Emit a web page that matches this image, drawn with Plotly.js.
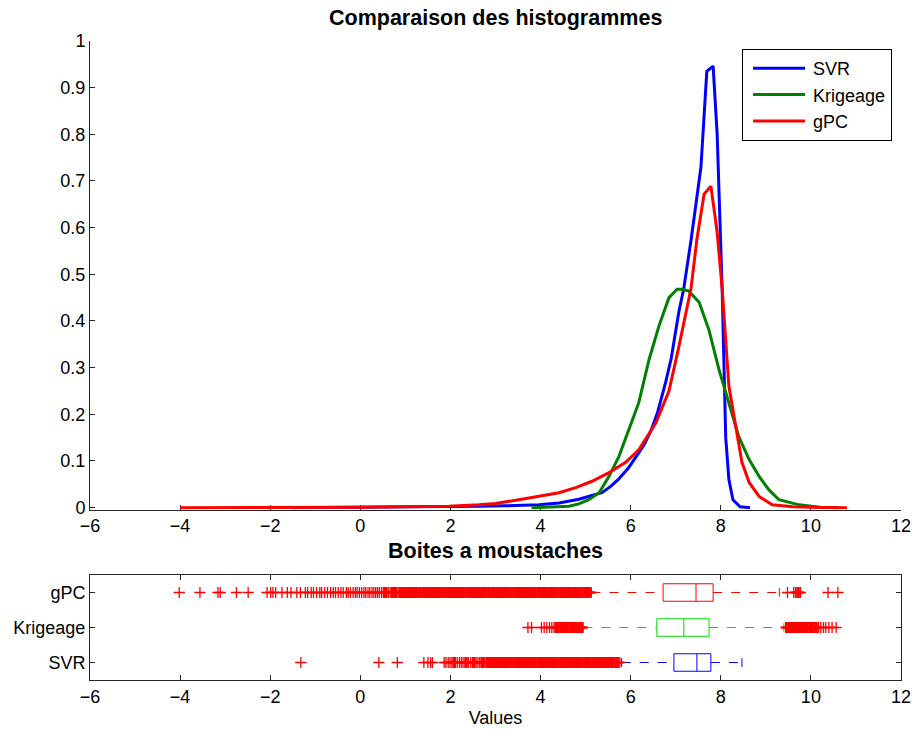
<!DOCTYPE html>
<html>
<head>
<meta charset="utf-8">
<script src="https://cdn.plot.ly/plotly-3.0.1.min.js"></script>
<style>
  html, body { margin: 0; padding: 0; background: #fff; }
  #chart { width: 913px; height: 729px; }
</style>
</head>
<body>
<div id="chart"></div>
<script>
// ---- Density estimates (top panel) ----
const svrX = [-1.5, 0, 1, 2, 2.6, 3.2, 3.6, 3.96, 4.41, 4.85, 5.1, 5.36, 5.55, 5.72, 5.95, 6.15, 6.3, 6.45, 6.6, 6.78, 6.9, 7.07, 7.18, 7.35, 7.56, 7.69, 7.83, 7.92, 8.03, 8.11, 8.18, 8.27, 8.43, 8.65];
const svrY = [0, 0.0005, 0.001, 0.002, 0.003, 0.004, 0.005, 0.006, 0.010, 0.018, 0.025, 0.032, 0.045, 0.060, 0.085, 0.115, 0.135, 0.165, 0.205, 0.27, 0.32, 0.42, 0.47, 0.58, 0.73, 0.935, 0.946, 0.80, 0.47, 0.15, 0.06, 0.017, 0.002, 0];

const krigX = [3.8, 4.2, 4.63, 4.85, 5.07, 5.30, 5.52, 5.74, 5.96, 6.18, 6.41, 6.63, 6.85, 7.03, 7.15, 7.29, 7.52, 7.74, 7.96, 8.18, 8.40, 8.63, 8.85, 9.07, 9.29, 9.74, 10.2, 10.6];
const krigY = [0, 0.001, 0.003, 0.008, 0.017, 0.032, 0.067, 0.11, 0.167, 0.225, 0.318, 0.39, 0.45, 0.468, 0.468, 0.464, 0.44, 0.38, 0.296, 0.225, 0.152, 0.103, 0.067, 0.038, 0.017, 0.006, 0.001, 0];

const gpcX = [-4.0, -3, -2, -1, 0, 1, 1.97, 2.63, 3.0, 3.52, 3.74, 4.1, 4.41, 4.78, 5.13, 5.52, 5.89, 6.18, 6.56, 6.85, 7.07, 7.34, 7.47, 7.63, 7.78, 7.92, 8.03, 8.18, 8.34, 8.47, 8.63, 8.85, 9.14, 9.6, 10.2, 10.8];
const gpcY = [0, 0, 0.0005, 0.001, 0.001, 0.002, 0.003, 0.006, 0.009, 0.017, 0.021, 0.026, 0.032, 0.043, 0.056, 0.075, 0.097, 0.124, 0.182, 0.25, 0.345, 0.47, 0.575, 0.672, 0.689, 0.59, 0.47, 0.26, 0.174, 0.097, 0.054, 0.024, 0.006, 0.002, 0.0005, 0];

// ---- Box plot statistics (bottom panel), order: SVR, Krigeage, gPC ----
const boxNames  = ['SVR', 'Krigeage', 'gPC'];
const boxPos    = [1, 2, 3];
const boxQ1     = [6.96, 6.58, 6.72];
const boxMedian = [7.47, 7.18, 7.45];
const boxQ3     = [7.78, 7.74, 7.83];
const boxLower  = [5.80, 4.95, 5.13];
const boxUpper  = [8.47, 9.40, 9.30];
const boxColors = ['rgb(0,0,255)', 'rgb(0,220,0)', 'rgb(255,0,0)'];

// Outliers beyond the whiskers
const svrOutliers = [
  -1.32, 0.41, 0.82, 1.41, 1.50, 1.56, 1.60, 1.86, 1.90, 1.95, 1.99, 2.03, 2.07, 2.10, 2.15, 2.20,
  2.24, 2.28, 2.33, 2.36, 2.40, 2.45, 2.50, 2.53, 2.57, 2.61, 2.65, 2.69, 2.72, 2.76,
  2.80, 2.83, 2.87, 2.90, 2.94, 2.97, 3.01, 3.04, 3.08, 3.11, 3.14, 3.18, 3.21, 3.25, 3.28, 3.31,
  3.35, 3.38, 3.42, 3.45, 3.48, 3.52, 3.55, 3.59, 3.62, 3.65, 3.69, 3.72, 3.76, 3.79, 3.82, 3.86,
  3.89, 3.93, 3.96, 3.99, 4.03, 4.06, 4.10, 4.13, 4.16, 4.20, 4.23, 4.27, 4.30, 4.33, 4.37, 4.40,
  4.44, 4.47, 4.50, 4.54, 4.57, 4.61, 4.64, 4.67, 4.71, 4.74, 4.78, 4.81, 4.84, 4.88, 4.91, 4.95,
  4.98, 5.01, 5.05, 5.08, 5.11, 5.15, 5.18, 5.22, 5.25, 5.28, 5.32, 5.35, 5.39, 5.42, 5.45, 5.49,
  5.52, 5.56, 5.59, 5.62, 5.66, 5.69, 5.72, 5.76
];
const krigOutliers = [
  3.72, 3.80, 4.02, 4.08, 4.14, 4.20, 4.25, 4.30, 4.34, 4.37, 4.40, 4.44, 4.47, 4.50, 4.54, 4.57,
  4.60, 4.64, 4.67, 4.70, 4.74, 4.77, 4.80, 4.84, 4.87, 4.90, 4.93,
  9.45, 9.48, 9.51, 9.54, 9.58, 9.61, 9.64, 9.67, 9.71, 9.74, 9.77, 9.80, 9.84, 9.87, 9.90, 9.93,
  9.97, 10.00, 10.03, 10.06, 10.10, 10.13, 10.17, 10.22, 10.28, 10.33, 10.40, 10.47, 10.56
];
const gpcOutliers = [
  -4.02, -3.56, -3.16, -3.11, -2.75, -2.49, -2.07, -1.99, -1.94, -1.88, -1.74, -1.62, -1.54, -1.41,
  -1.33, -1.22, -1.17, -1.09, -1.04, -0.97, -0.90, -0.86, -0.79, -0.73, -0.66, -0.60, -0.55, -0.49,
  -0.43, -0.38, -0.31, -0.27, -0.22, -0.16, -0.11, -0.07, -0.02, 0.03, 0.08, 0.12, 0.17, 0.21,
  0.26, 0.30, 0.34, 0.38, 0.42, 0.47, 0.51, 0.55, 0.58, 0.62, 0.66, 0.70, 0.73, 0.77, 0.80, 0.84,
  0.88, 0.91, 0.95, 0.98,
  1.00, 1.04, 1.07, 1.10, 1.14, 1.17, 1.21, 1.24, 1.27, 1.31, 1.34, 1.38, 1.41, 1.44, 1.48, 1.51,
  1.55, 1.58, 1.61, 1.65, 1.68, 1.72, 1.75, 1.78, 1.82, 1.85, 1.89, 1.92, 1.95, 1.99, 2.02, 2.06,
  2.09, 2.12, 2.16, 2.19, 2.23, 2.26, 2.29, 2.33, 2.36, 2.40, 2.43, 2.46, 2.50, 2.53, 2.57, 2.60,
  2.63, 2.67, 2.70, 2.74, 2.77, 2.80, 2.84, 2.87, 2.91, 2.94, 2.97, 3.01, 3.04, 3.08, 3.11, 3.14,
  3.18, 3.21, 3.25, 3.28, 3.31, 3.35, 3.38, 3.42, 3.45, 3.48, 3.52, 3.55, 3.59, 3.62, 3.65, 3.69,
  3.72, 3.76, 3.79, 3.82, 3.86, 3.89, 3.93, 3.96, 3.99, 4.03, 4.06, 4.10, 4.13, 4.16, 4.20, 4.23,
  4.27, 4.30, 4.33, 4.37, 4.40, 4.44, 4.47, 4.50, 4.54, 4.57, 4.61, 4.64, 4.67, 4.71, 4.74, 4.78,
  4.81, 4.84, 4.88, 4.91, 4.95, 4.98, 5.01, 5.05, 5.08, 5.11,
  9.48, 9.62, 9.66, 9.70, 9.73, 9.77, 10.38, 10.60
];
const outlierSets = [svrOutliers, krigOutliers, gpcOutliers];

const xTicks = [-6, -4, -2, 0, 2, 4, 6, 8, 10, 12];
const FONT = 'Liberation Sans, Arial, Helvetica, sans-serif';
const AXIS_COLOR = '#262626';

const traces = [
  { x: svrX,  y: svrY,  name: 'SVR',      mode: 'lines', line: { color: 'rgb(0,0,255)', width: 3 }, xaxis: 'x', yaxis: 'y' },
  { x: krigX, y: krigY, name: 'Krigeage', mode: 'lines', line: { color: 'rgb(0,128,0)', width: 3 }, xaxis: 'x', yaxis: 'y' },
  { x: gpcX,  y: gpcY,  name: 'gPC',      mode: 'lines', line: { color: 'rgb(255,0,0)', width: 3 }, xaxis: 'x', yaxis: 'y' }
];

// Horizontal box plots built from the summary statistics
const halfBox = 0.25, halfCap = 0.125;
boxNames.forEach((name, i) => {
  const p = boxPos[i], c = boxColors[i];
  const common = { xaxis: 'x2', yaxis: 'y2', showlegend: false, hoverinfo: 'skip', mode: 'lines' };
  traces.push(Object.assign({}, common, {
    x: [boxLower[i], boxQ1[i], null, boxQ3[i], boxUpper[i]],
    y: [p, p, null, p, p],
    line: { color: c, width: 1, dash: 'dash' }
  }));
  traces.push(Object.assign({}, common, {
    x: [boxLower[i], boxLower[i], null, boxUpper[i], boxUpper[i]],
    y: [p - halfCap, p + halfCap, null, p - halfCap, p + halfCap],
    line: { color: c, width: 1 }
  }));
  traces.push(Object.assign({}, common, {
    x: [boxQ1[i], boxQ3[i], boxQ3[i], boxQ1[i], boxQ1[i], null, boxMedian[i], boxMedian[i]],
    y: [p - halfBox, p - halfBox, p + halfBox, p + halfBox, p - halfBox, null, p - halfBox, p + halfBox],
    line: { color: c, width: 1 }
  }));
});

// Crosses packed closely together merge into a solid band; isolated ones stay thin
function strokeWidths(vals) {
  return vals.map((v, k) => {
    const prev = k > 0 ? v - vals[k - 1] : Infinity;
    const next = k < vals.length - 1 ? vals[k + 1] - v : Infinity;
    return Math.min(prev, next) < 0.037 ? 2.2 : 1.3;
  });
}
outlierSets.forEach((vals, i) => {
  traces.push({
    x: vals, y: vals.map(() => boxPos[i]),
    xaxis: 'x2', yaxis: 'y2', mode: 'markers', showlegend: false, hoverinfo: 'skip',
    marker: { symbol: 'cross-thin', size: 8, color: 'rgb(255,0,0)',
              line: { color: 'rgb(255,0,0)', width: strokeWidths(vals) } }
  });
});

const axisBase = {
  showline: true, linecolor: AXIS_COLOR, linewidth: 1,
  ticks: 'inside', ticklen: 5, tickcolor: AXIS_COLOR, tickwidth: 1,
  showgrid: false, zeroline: false,
  tickfont: { family: FONT, size: 18, color: '#000' }
};

const layout = {
  width: 913, height: 729,
  margin: { l: 90, r: 12, t: 41, b: 49 },
  paper_bgcolor: '#fff', plot_bgcolor: '#fff',
  font: { family: FONT, color: '#000' },
  showlegend: true,
  legend: {
    x: 0.989, xanchor: 'right', y: 0.9875, yanchor: 'top',
    bgcolor: '#fff', bordercolor: '#000', borderwidth: 1,
    font: { family: FONT, size: 18, color: '#000' },
    itemwidth: 60
  },
  xaxis: Object.assign({}, axisBase, {
    domain: [0, 1], anchor: 'y', range: [-6, 12], tickvals: xTicks, layer: 'below traces'
  }),
  yaxis: Object.assign({}, axisBase, {
    domain: [0.2668, 1], anchor: 'x', range: [-0.004, 1], tick0: 0, dtick: 0.1, layer: 'below traces'
  }),
  xaxis2: Object.assign({}, axisBase, {
    domain: [0, 1], anchor: 'y2', range: [-6, 12], tickvals: xTicks, mirror: 'ticks',
    title: { text: 'Values', font: { family: FONT, size: 18, color: '#000' }, standoff: 5 }
  }),
  yaxis2: Object.assign({}, axisBase, {
    domain: [0, 0.1643], anchor: 'x2', range: [0.5, 3.5], tickvals: boxPos, ticktext: boxNames, mirror: 'ticks'
  }),
  annotations: [
    { text: '<b>Comparaison des histogrammes</b>', xref: 'paper', yref: 'paper', x: 0.5, y: 1.036,
      xanchor: 'center', yanchor: 'middle', showarrow: false, font: { family: FONT, size: 21.5, color: '#000' } },
    { text: '<b>Boites a moustaches</b>', xref: 'paper', yref: 'paper', x: 0.5, y: 0.2019,
      xanchor: 'center', yanchor: 'middle', showarrow: false, font: { family: FONT, size: 21.5, color: '#000' } }
  ]
};

Plotly.newPlot('chart', traces, layout, { displayModeBar: false, staticPlot: true }).then(gd => {
  // Longer line samples in the legend
  gd.querySelectorAll('.legend .legendlines path').forEach(p => p.setAttribute('d', 'M10,0h52'));
});
</script>
</body>
</html>
